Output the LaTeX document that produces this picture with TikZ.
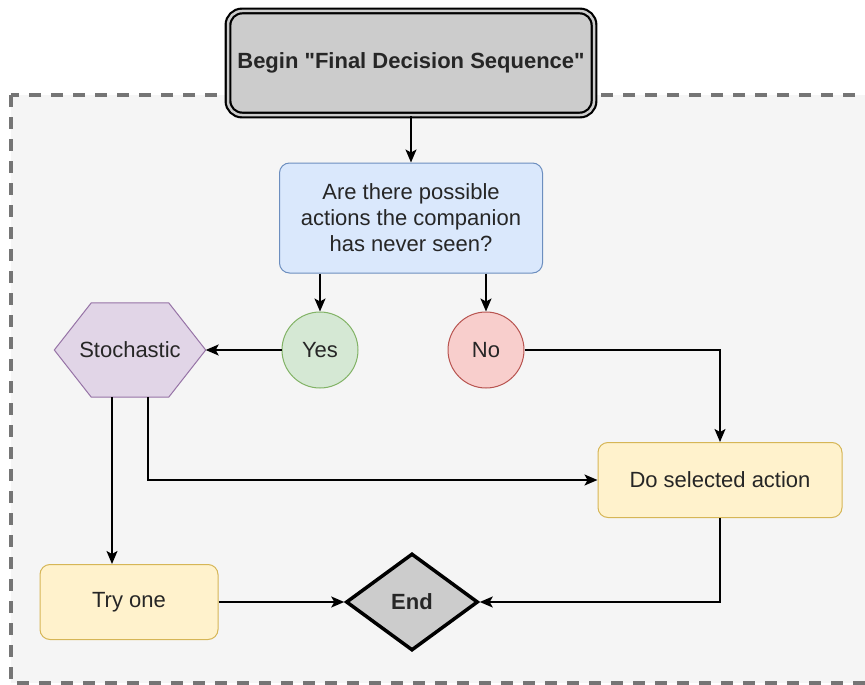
\documentclass[tikz,border=0pt]{standalone}
\usepackage{fontspec}
\setmainfont{Liberation Sans}[Ligatures=TeXOff]
\usetikzlibrary{shapes,arrows.meta}

\definecolor{panelgray}{HTML}{F5F5F5}
\definecolor{dashgray}{HTML}{757575}
\definecolor{startgray}{HTML}{CCCCCC}
\definecolor{questfill}{HTML}{DAE8FC}
\definecolor{questline}{HTML}{6C8EBF}
\definecolor{yesfill}{HTML}{D5E8D4}
\definecolor{yesline}{HTML}{82B366}
\definecolor{nofill}{HTML}{F8CECC}
\definecolor{noline}{HTML}{B85450}
\definecolor{stochfill}{HTML}{E1D5E7}
\definecolor{stochline}{HTML}{9673A6}
\definecolor{actfill}{HTML}{FFF2CC}
\definecolor{actline}{HTML}{D6B656}

\begin{document}
\begin{tikzpicture}[x=1pt,y=-1pt,>={Stealth[length=13pt,width=11pt,inset=3pt]},
	font=\fontsize{22}{26}\selectfont, text=black!85,
	step box/.style={draw, rectangle, rounded corners=10pt, align=center, line width=1pt},
	answer/.style={draw, circle, minimum size=76pt, inner sep=0pt, line width=1pt},
	flow/.style={->, line width=1.5pt}]
	\useasboundingbox (0,0) rectangle (865,685);
	% dashed panel
	\draw[dashgray, fill=panelgray, line width=4pt, dash pattern=on 12pt off 10pt] (11,95) rectangle (890,683);
	\node[draw, rectangle, rounded corners=14pt, fill=startgray, double=startgray, double distance=2.5pt, line width=2.2pt, minimum width=366pt, minimum height=104pt, font=\fontsize{22}{26}\selectfont\bfseries] (begin) at (411,63) {Begin "Final Decision Sequence"};
	\node[step box, fill=questfill, draw=questline, minimum width=263pt, minimum height=110pt] (quest) at (411,218) {Are there possible\\actions the companion\\has never seen?};
	\node[answer, fill=yesfill, draw=yesline] (yes) at (320,350) {Yes};
	\node[answer, fill=nofill, draw=noline] (no) at (486,350) {No};
	% hexagon drawn round a plain node
	\node[rectangle, minimum width=151pt, minimum height=94pt, inner sep=0pt] (stoch) at (130,350) {};
	\draw[fill=stochfill, draw=stochline, line width=1pt] (stoch.west) -- ([xshift=37pt]stoch.north west) -- ([xshift=-37pt]stoch.north east) -- (stoch.east) -- ([xshift=-37pt]stoch.south east) -- ([xshift=37pt]stoch.south west) -- cycle;
	\node at (stoch) {Stochastic};
	\node[step box, fill=actfill, draw=actline, minimum width=244pt, minimum height=75pt] (act) at (720,480) {Do selected action};
	\node[step box, fill=actfill, draw=actline, minimum width=178pt, minimum height=75pt] (try) at (129,602) {Try one};
	\node[draw, diamond, fill=startgray, line width=3.5pt, minimum width=132pt, minimum height=97pt, inner sep=0pt, font=\fontsize{22}{26}\selectfont\bfseries] (end) at (412,602) {End};
	% connectors
	\draw[flow] (begin) -- (quest);
	\draw[flow] (quest.south -| yes) -- (yes);
	\draw[flow] (quest.south -| no) -- (no);
	\draw[flow] (yes) -- (stoch);
	\draw[flow] (no) -| (act);
	\draw[flow] ([xshift=18pt]stoch.south) |- (act);
	\draw[flow] ([xshift=-18pt]stoch.south) -- ([xshift=-18pt]stoch.south |- try.north);
	\draw[flow] (try) -- (end);
	\draw[flow] (act) |- (end);
\end{tikzpicture}
\end{document}
